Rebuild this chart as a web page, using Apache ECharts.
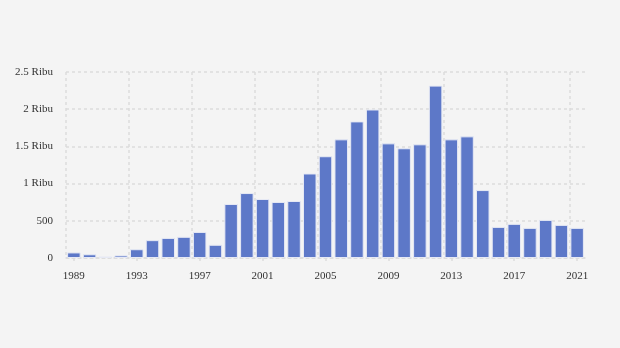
<!DOCTYPE html>
<html>
<head>
<meta charset="utf-8">
<script src="https://cdn.jsdelivr.net/npm/echarts@6/dist/echarts.min.js"></script>
<style>
  html, body { margin: 0; padding: 0; background: #f4f4f4; }
  #chart { width: 620px; height: 348px; }
</style>
</head>
<body>
<div id="chart"></div>
<script>
// Years shown on the category axis
const years = [
  '1989','1990','1991','1992','1993','1994','1995','1996','1997','1998','1999',
  '2000','2001','2002','2003','2004','2005','2006','2007','2008','2009','2010',
  '2011','2012','2013','2014','2015','2016','2017','2018','2019','2020','2021'
];

// Annual values
const values = [
  75, 50, 20, 35, 118, 240, 270, 285, 350, 178, 726,
  873, 793, 753, 766, 1136, 1368, 1595, 1836, 1996, 1541, 1475,
  1528, 2317, 1595, 1635, 913, 418, 459, 405, 512, 445, 405
];

// Value axis tick labels
const yTickLabels = { 0: '0', 500: '500', 1000: '1 Ribu', 1500: '1.5 Ribu', 2000: '2 Ribu', 2500: '2.5 Ribu' };

const gridLine = { color: '#dcdcdc', type: [3, 3], width: 1.5 };
const font = { fontFamily: '"Liberation Serif", "DejaVu Serif", serif', fontSize: 11, color: '#333' };

// Plot area geometry
const plotLeft = 66, plotWidth = 519, plotTop = 72, plotBottom = 90;
const band = plotWidth / years.length;
// vertical guides every 4 years, from the first band edge up to the last band's left edge
const guideBands = years.length - 1;

const chart = echarts.init(document.getElementById('chart'), null, { renderer: 'canvas' });
chart.setOption({
  backgroundColor: '#f4f4f4',
  animation: false,
  grid: [
    { left: plotLeft, width: plotWidth, top: plotTop, bottom: plotBottom },
    { left: plotLeft, width: band * guideBands, top: plotTop, bottom: plotBottom }
  ],
  xAxis: [{
    type: 'category',
    gridIndex: 0,
    data: years,
    boundaryGap: true,
    axisLine: { show: true, lineStyle: gridLine },
    axisTick: { show: true, alignWithLabel: true, interval: 3, length: 5, lineStyle: gridLine },
    axisLabel: Object.assign({ interval: 3, margin: 13 }, font),
    splitLine: { show: false }
  }, {
    type: 'value',
    gridIndex: 1,
    min: 0,
    max: guideBands,
    interval: 4,
    axisLine: { show: false },
    axisTick: { show: false },
    axisLabel: { show: false },
    splitLine: { show: true, lineStyle: gridLine }
  }],
  yAxis: [{
    type: 'value',
    gridIndex: 0,
    min: 0,
    max: 2500,
    interval: 500,
    axisLine: { show: false },
    axisTick: { show: false },
    axisLabel: Object.assign({
      margin: 13,
      formatter: v => yTickLabels[v] !== undefined ? yTickLabels[v] : String(v)
    }, font),
    splitLine: { show: true, lineStyle: gridLine }
  }, {
    type: 'value',
    gridIndex: 1,
    min: 0,
    max: 1,
    show: false,
    splitLine: { show: false }
  }],
  series: [{
    type: 'bar',
    xAxisIndex: 0,
    yAxisIndex: 0,
    data: values,
    barCategoryGap: '14%',
    itemStyle: { color: '#5d78c8', borderColor: '#e6e9f4', borderWidth: 1 }
  }]
});
</script>
</body>
</html>
